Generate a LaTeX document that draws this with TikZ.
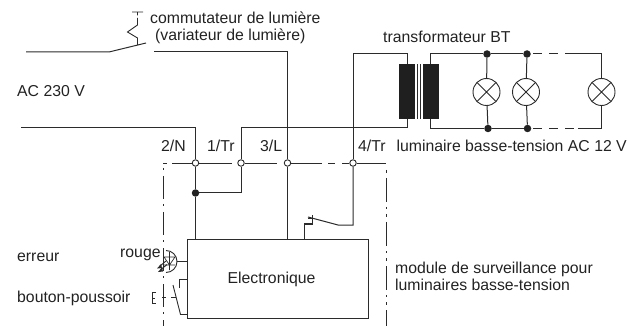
\documentclass[tikz,border=0pt]{standalone}
\usepackage{fontspec}
\setmainfont{Liberation Sans}
\definecolor{ink}{HTML}{2B2B2B}
\definecolor{txt}{HTML}{222222}
\tikzset{
  wire/.style={draw=ink,line width=1pt,line join=miter},
  thin wire/.style={draw=ink,line width=0.9pt},
  label/.style={anchor=base west,inner sep=0pt,text=txt,font=\fontsize{15.8}{18}\selectfont},
  term/.style={circle,draw=ink,fill=white,line width=0.9pt,minimum size=6.5pt,inner sep=0pt},
  junction/.style={circle,fill=ink!80!black,minimum size=7.5pt,inner sep=0pt},
  lamp/.style={circle,draw=ink,line width=0.9pt,fill=white,minimum size=27pt,inner sep=0pt,path picture={\draw[ink,line width=0.8pt] (path picture bounding box.south west)--(path picture bounding box.north east) (path picture bounding box.south east)--(path picture bounding box.north west);}},
  core/.style={fill=black!88,draw=none,minimum width=16pt,minimum height=55pt,inner sep=0pt},
  seg/.style={draw=ink,line width=0.9pt}
}
\begin{document}
\begin{tikzpicture}[x=1pt,y=-1pt]
\useasboundingbox (0,0) rectangle (627,326);
\coordinate (topL) at (26,52);
\coordinate (swA) at (109,52);
\coordinate (swB) at (146,43);
\coordinate (swC) at (154,52);
\coordinate (neuL) at (21,128);
\coordinate (neuR) at (195.5,128);
\node[draw=ink,line width=1pt,minimum width=181pt,minimum height=79pt,inner sep=0pt] (elec) at (277.5,278.5) {};
\node[anchor=base,inner sep=0pt,text=txt,font=\fontsize{15.8}{18}\selectfont] (elecT) at (271.5,283) {Electronique};
\node[term] (t2) at (195.5,163) {};
\node[term] (t1) at (241,163) {};
\node[term] (t3) at (287.5,163) {};
\node[term] (t4) at (353,163) {};
\node[junction] (j) at (195.5,193) {};
\coordinate (fTL) at (163,163);
\coordinate (fTR) at (386,163);
\coordinate (fBL) at (163,326);
\coordinate (fBR) at (386,326);
\draw[seg] (fTL)--(167,163) (172,163)--(t2) (t2)--(232,163) (t1)--(277,163) (t3)--(322,163) (328,163)--(335,163) (342,163)--(t4) (t4)--(fTR);
\draw[seg,dash pattern=on 2pt off 6pt on 23pt off 5pt] (163,168)--(fBL);
\draw[seg,dash pattern=on 3pt off 5pt on 24pt off 5pt on 2pt off 5pt] (386,170)--(fBR);
\draw[wire] (topL)--(swA)--(swB);
\draw[wire] (swC)--(287.5,52)--(t3);
\draw[wire] (t3)--(287.5,239);
\draw[wire] (neuL)--(neuR)--(t2);
\draw[wire] (t2)--(j)--(195.5,239);
\draw[wire] (j)--(241,193)--(t1);
\draw[wire] (t1)--(241,128)--(407,128)--(407,119);
\draw[wire] (t4)--(353,54)--(407,54)--(407,64);
\draw[wire] (t4)--(353,225)--(338,225)--(308,217);
\draw[wire] (304,239)--(304,224)--(312,224)--(312,215);
\draw[thin wire] (308,218)--(313,218);
\draw[thin wire] (132,12)--(143,12) (137.5,12)--(137.5,15.5) (137.5,18)--(137.5,25)--(127.5,32)--(137.5,38)--(137.5,45);
\node[core] (c1) at (407,91.5) {};
\node[core] (c2) at (431,91.5) {};
\draw[line width=0.8pt,draw=ink] (417,64.5)--(417,119) (420.5,64.5)--(420.5,119);
\coordinate (bT) at (430.5,54);
\coordinate (bB) at (430.5,128.5);
\node[lamp] (l1) at (486.5,92) {};
\node[lamp] (l2) at (526,92) {};
\node[lamp] (l3) at (601.5,92) {};
\node[junction] (j1) at (487,54) {};
\node[junction] (j2) at (527,54) {};
\node[junction] (j3) at (488,128.5) {};
\node[junction] (j4) at (527.5,128.5) {};
\draw[wire] (c2.north -| bT)--(bT)--(j1)--(j2);
\draw[wire] (c2.south -| bB)--(bB)--(j3)--(j4);
\draw[wire] (j1)--(l1) (l1)--(j3) (j2)--(l2) (l2)--(j4);
\draw[wire,dash pattern=on 9pt off 7pt] (533,54)--(570,54);
\draw[wire] (570,54)--(601.5,54)--(l3);
\draw[wire,dash pattern=on 9pt off 7pt] (533,128.5)--(578,128.5);
\draw[wire] (578,128.5)--(601.5,128.5)--(l3);
% LED
\draw[thin wire] (166,250.5) arc[start angle=-90,end angle=90,radius=11];
\draw[wire] (177,261.5)--(187,261.5);
\draw[line width=0.7pt,draw=ink] (164,257)--(175,257)--(169.5,265)--cycle (164,265)--(175,265) (169.5,252)--(169.5,270);
\draw[line width=0.9pt,draw=ink] (166,261)--(160,266) (167,264.5)--(161,269.5);
\fill[ink] (157,268.5) -- (161,264) -- (162,268) -- cycle (158,272)--(162,267.5)--(163,271.5)--cycle;
% push-button
\draw[thin wire] (156,292.5)--(152,292.5)--(152,303.5)--(156,303.5);
\draw[thin wire] (152,298)--(155,298);
\draw[thin wire] (162,297)--(166,297) (171,297)--(176,297);
\draw[thin wire] (173,285)--(180.5,314.5)--(187,314.5);
\draw[thin wire] (179,288)--(179,279)--(187,279);
% labels
\node[label] (a) at (150,24) {commutateur de lumière};
\node[label] (b) at (155,40.5) {(variateur de lumière)};
\node[label] (c) at (17,97) {AC 230 V};
\node[label] (d) at (383,43) {transformateur BT};
\node[label] (e) at (396.5,152) {luminaire basse-tension AC 12 V};
\node[label] (f) at (358,152) {4/Tr};
\node[label] (g) at (260,152) {3/L};
\node[label] (h) at (207,152) {1/Tr};
\node[label] (i) at (161,152) {2/N};
\node[label] (k) at (120,258) {rouge};
\node[label] (m) at (17,261) {erreur};
\node[label] (n) at (17,302) {bouton-poussoir};
\node[label] (o) at (395,273) {module de surveillance pour};
\node[label] (p) at (395,290) {luminaires basse-tension};
\end{tikzpicture}
\end{document}
